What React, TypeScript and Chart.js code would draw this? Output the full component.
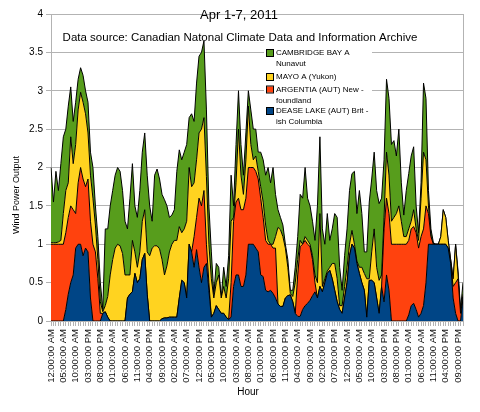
import React, { useEffect, useRef } from "react";
import { Chart, registerables } from "chart.js";

Chart.register(...registerables);

const TITLE = "Apr 1-7, 2011";
const SUBTITLE = "Data source: Canadian Natonal Climate Data and Information Archive";
const X_TITLE = "Hour";
const Y_TITLE = "Wind Power Output";

const hourNames = [
  "12:00:00 AM", "01:00:00 AM", "02:00:00 AM", "03:00:00 AM", "04:00:00 AM", "05:00:00 AM",
  "06:00:00 AM", "07:00:00 AM", "08:00:00 AM", "09:00:00 AM", "10:00:00 AM", "11:00:00 AM",
  "12:00:00 PM", "01:00:00 PM", "02:00:00 PM", "03:00:00 PM", "04:00:00 PM", "05:00:00 PM",
  "06:00:00 PM", "07:00:00 PM", "08:00:00 PM", "09:00:00 PM", "10:00:00 PM", "11:00:00 PM",
];
const days = [1, 2, 3, 4, 5, 6, 7];
const categories: string[] = days.flatMap(() => hourNames);

// DEASE LAKE (AUT) British Columbia
const dease = [
  0, 0, 0, 0, 0, 0, 0.15, 0.35, 0.5, 0.6,
  0.95, 1.0, 1.0, 0.85, 0.95, 0.9, 0.3, 0, 0, 0,
  0, 0.1, 0.12, 0.05, 0, 0, 0, 0, 0, 0,
  0, 0.3, 0.35, 0.38, 0.62, 0.5, 0.55, 0.8, 0.88, 0.35,
  0, 0, 0, 0, 0, 0.03, 0.04, 0.04, 0.05, 0.05,
  0.05, 0.05, 0.3, 0.53, 0.5, 0.3, 1.0, 0.9, 0.7, 0.93,
  0.7, 0.5, 0.7, 0.75, 0.4, 0.05, 0.1, 0.2, 0.15, 0.1,
  0.1, 0.05, 0.02, 0.05, 0.45, 0.6, 0.6, 0.45, 0.45, 0.6,
  1.0, 1.0, 1.0, 0.95, 0.9, 0.6, 0.58, 0.4, 0.38, 0.4,
  0.36, 0.3, 0.22, 0.19, 0.19, 0.3, 0.33, 0.34, 0.25, 0.1,
  0.06, 0.06, 0.15, 0.2, 0.23, 0.27, 0.33, 0.38, 0.3, 0.45,
  0.38, 0.5, 0.62, 0.66, 0.55, 0.4, 0.25, 0.15, 0.1, 0.3,
  0.5, 0.85, 1.0, 0.95, 0.75, 0.62, 0.5, 0.4, 0.05, 0.53,
  0.53, 0.5, 0.3, 0.1, 0.45, 0.25, 0.6, 0.4, 0, 0,
  0, 0, 0, 0, 0, 0.08, 0.2, 0.23, 0.15, 0.05,
  0.1, 0.2, 0.5, 1.0, 1.0, 1.0, 1.0, 1.0, 1.0, 1.0,
  1.0, 0.95, 0.75, 0.3, 0.1, 0, 0, 0.3,
];

// ARGENTIA (AUT) Newfoundland
const argentia = [
  1, 1, 1, 1, 1, 1, 1, 1, 1, 0.85,
  0.45, 0.8, 1.0, 1.0, 0.8, 0.95, 1.0, 1.0, 0.9, 0.55,
  0.1, 0, 0, 0, 0, 0, 0, 0, 0, 0,
  0, 0, 0, 0, 0, 0, 0, 0, 0, 0,
  0, 0, 0, 0, 0, 0, 0, 0, 0, 0,
  0, 0, 0, 0, 0, 0, 0, 0, 0.4, 0.42,
  0.9, 1.0, 1.0, 0.25, 0.1, 0, 0, 0, 0, 0,
  0, 0, 0, 0.45, 0.85, 0.95, 1.0, 1.0, 1.0, 1.0,
  1.0, 1.0, 1.0, 1.0, 0.95, 1.0, 0.77, 0.65, 0.62, 0.6,
  0.59, 0.65, 0, 0, 0, 0, 0, 0, 0, 0,
  0.54, 0.91, 0.85, 0.85, 0.77, 0.7, 0.47, 0.12, 0, 0,
  0, 0, 0, 0, 0, 0, 0, 0, 0, 0,
  0, 0, 0, 0, 0, 0, 0, 0, 0, 0,
  0, 0, 0, 0, 0, 0.95, 1.0, 1.0, 1.0, 1.0,
  1.0, 1.0, 1.0, 1.0, 1.0, 0.97, 1.0, 1.0, 1.0, 0.9,
  1.0, 1.0, 1.0, 0.4, 0.1, 0, 0, 0, 0, 0,
  0, 0, 0, 0.15, 0.4, 0.55, 0.1, 0,
];

// MAYO A (Yukon)
const mayo = [
  0.02, 0.02, 0.02, 0.03, 0.05, 0.4, 0.55, 0.45, 0.9, 0.6,
  0.9, 0.95, 0.98, 1.0, 0.95, 0.6, 0.6, 0.6, 0.35, 0.25,
  0.15, 0.02, 0.08, 0.27, 0.6, 0.8, 0.95, 1.0, 0.98, 0.88,
  0.6, 0.3, 0.25, 0.67, 0.28, 0.2, 0.35, 0.5, 0.57, 0.55,
  0.85, 0.95, 0.98, 0.98, 0.94, 0.77, 0.56, 0.68, 0.85, 0.95,
  1.0, 1.0, 0.93, 0.62, 0.7, 1.0, 1.0, 0.85, 0.7, 0.75,
  0.85, 1.0, 0.95, 0.88, 0.5, 0.5, 0.2, 0.3, 0.45, 0.2,
  0.35, 0.25, 0.53, 0.8, 0.05, 0.25, 0.9, 0.45, 0.2, 0.5,
  0.8, 0.3, 0.1, 0.2, 0.1, 0.15, 0.2, 0.2, 0.05, 0,
  0.05, 0.15, 1.0, 1.0, 0.91, 0.65, 0.37, 0.02, 0.07, 0.4,
  0.2, 0.08, 0, 0.05, 0.05, 0.03, 0.05, 0.1, 0.2, 0.95,
  0.07, 0.05, 0.03, 0.04, 0.2, 0.35, 0.3, 0.05, 0.1, 0.15,
  0.2, 0.15, 0.18, 0.05, 0.03, 0.08, 0.2, 0.22, 0.5, 0.02,
  0.37, 0.7, 0.4, 0.43, 0.15, 0.15, 0.6, 0.5, 0.3, 0.35,
  0.4, 0.5, 0.3, 0.1, 0.1, 0.15, 0.1, 0.22, 0.05, 0.1,
  0.5, 1.0, 0.6, 0.1, 0, 0, 0, 0, 0.1, 0.45,
  0.35, 0.1, 0.05, 0.1, 0.5, 0.05, 0.02, 0.05,
];

// CAMBRIDGE BAY A Nunavut
const cambridge = [
  0.98, 0.53, 0.93, 0.67, 1.0, 1.0, 0.8, 1.0, 0.65, 0.55,
  0.55, 0.4, 0.32, 0.35, 0.3, 0.4, 0.3, 0.4, 0.25, 0.3,
  0.25, 0.03, 1.0, 0.88, 0.9, 0.9, 0.95, 1.0, 0.97, 0.82,
  0.7, 0.6, 1.0, 1.0, 0.6, 0.65, 0.8, 0.9, 1.0, 1.0,
  0.65, 0.35, 0.92, 1.0, 0.91, 0.85, 0.98, 0.78, 0.45, 0.38,
  0.4, 0.9, 1.0, 0.95, 1.0, 1.0, 0.65, 0.95, 0.8, 1.0,
  1.0, 1.0, 1.0, 0.87, 0.5, 0.35, 0.05, 0.25, 0.1, 0,
  0.25, 0.15, 0.3, 0.6, 0.15, 0.5, 0.5, 0.4, 0.25, 0.35,
  0.2, 0.45, 0.4, 0.35, 0.25, 0.45, 0.55, 0.65, 0.95, 0.8,
  1.0, 0.55, 0.23, 0.16, 0.15, 0.05, 0.1, 0.04, 0.08, 0.2,
  0.3, 0.6, 0.6, 0.9, 0.55, 0.5, 0.45, 0.45, 1.0, 1.0,
  0.75, 0.45, 0.75, 0.35, 0.45, 0.65, 0.8, 0.5, 0.2, 0.4,
  0.5, 0.7, 0.74, 0.95, 0.62, 1.0, 0.7, 0.28, 0.35, 1.0,
  0.95, 1.0, 1.0, 1.0, 1.0, 0.75, 0.95, 1.0, 1.0, 1.0,
  0.75, 1.0, 0.5, 0.28, 0.6, 0.72, 0.85, 0.82, 0.3, 0.1,
  0.2, 0.9, 0.8, 0.2, 0.1, 0.02, 0, 0, 0, 0,
  0, 0, 0, 0, 0, 0.05, 0.03, 0.15,
];

const seriesNames = [
  "DEASE LAKE (AUT) British Columbia",
  "ARGENTIA (AUT) Newfoundland",
  "MAYO A (Yukon)",
  "CAMBRIDGE BAY A Nunavut",
];
const seriesColors = ["#004586", "#ff420e", "#ffd320", "#579d1c"];

// legend rows, top to bottom (as wrapped in the original)
const legendTexts = [
  ["CAMBRIDGE BAY A", "Nunavut"],
  ["MAYO A (Yukon)"],
  ["ARGENTIA (AUT) New -", "foundland"],
  ["DEASE LAKE (AUT) Brit -", "ish Columbia"],
];
const legendColors = ["#579d1c", "#ffd320", "#ff420e", "#004586"];

const FONT = '"Liberation Sans", Arial, sans-serif';
const GRID = "#b3b3b3";

const overlayPlugin = {
  id: "overlay",
  afterDraw(chart: any) {
    const { ctx, chartArea } = chart;
    ctx.save();
    // right frame border
    ctx.strokeStyle = GRID;
    ctx.lineWidth = 1;
    ctx.beginPath();
    ctx.moveTo(Math.round(chartArea.right) + 0.5, chartArea.top);
    ctx.lineTo(Math.round(chartArea.right) + 0.5, chartArea.bottom);
    ctx.stroke();

    ctx.fillStyle = "#000";
    ctx.textAlign = "center";
    ctx.textBaseline = "middle";
    ctx.font = `13px ${FONT}`;
    ctx.fillText(TITLE, 239, 15);
    ctx.font = `11.5px ${FONT}`;
    ctx.fillText(SUBTITLE, 240, 38);

    // legend
    ctx.fillStyle = "#fff";
    ctx.fillRect(264, 47, 108, 81);
    const rowY = [53, 77, 89.5, 111];
    ctx.font = `8px ${FONT}`;
    ctx.textAlign = "left";
    legendTexts.forEach((lines, i) => {
      const y = rowY[i];
      ctx.fillStyle = legendColors[i];
      ctx.fillRect(267, y - 3, 6, 6);
      ctx.strokeStyle = "#000";
      ctx.lineWidth = 1;
      ctx.strokeRect(266.5, y - 3.5, 7, 7);
      ctx.fillStyle = "#000";
      lines.forEach((t, j) => ctx.fillText(t, 276, y + j * 11));
    });

    // axis titles
    ctx.textAlign = "center";
    ctx.font = `10px ${FONT}`;
    ctx.fillText(X_TITLE, 248, 392);
    ctx.translate(17, 195);
    ctx.rotate(-Math.PI / 2);
    ctx.font = `9px ${FONT}`;
    ctx.fillText(Y_TITLE, 0, 0);
    ctx.restore();
  },
};

export default function App() {
  const ref = useRef<HTMLCanvasElement | null>(null);

  useEffect(() => {
    document.body.style.margin = "0";
    const canvas = ref.current;
    if (!canvas) return;
    const data = [dease, argentia, mayo, cambridge];
    const chart = new Chart(canvas, {
      type: "line",
      data: {
        labels: categories,
        datasets: data.map((values, i) => ({
          label: seriesNames[i],
          data: values,
          backgroundColor: seriesColors[i],
          borderColor: "#000",
          borderWidth: 1,
          fill: i === 0 ? "origin" : "-1",
          pointRadius: 0,
          tension: 0,
        })),
      },
      options: {
        animation: false,
        responsive: false,
        devicePixelRatio: 1,
        layout: { padding: { left: 0, right: 17, top: 14, bottom: 0 } },
        plugins: {
          legend: { display: false },
          title: { display: false },
          tooltip: { enabled: false },
        },
        scales: {
          x: {
            type: "category",
            offset: false,
            afterFit: (scale: any) => {
              scale.height = 91;
            },
            grid: {
              display: true,
              drawOnChartArea: false,
              drawTicks: true,
              tickLength: 5,
              color: GRID,
            },
            border: { display: true, color: GRID },
            ticks: {
              autoSkip: false,
              maxRotation: 90,
              minRotation: 90,
              padding: 3,
              color: "#111",
              font: { family: FONT, size: 9.5 },
              callback: (_v: any, index: number) => (index % 5 === 0 ? categories[index] : ""),
            },
          },
          y: {
            stacked: true,
            min: 0,
            max: 4,
            afterFit: (scale: any) => {
              scale.width = 51;
            },
            grid: { color: GRID, tickLength: 5, drawTicks: true },
            border: { display: true, color: GRID },
            ticks: {
              stepSize: 0.5,
              padding: 3,
              color: "#000",
              font: { family: FONT, size: 10 },
              callback: (v: any) => String(Number(v)),
            },
          },
        },
      },
      plugins: [overlayPlugin],
    });
    return () => chart.destroy();
  }, []);

  return (
    <div style={{ position: "fixed", left: 0, top: 0, width: 480, height: 412, background: "#fff" }}>
      <canvas ref={ref} width={480} height={412} style={{ width: 480, height: 412 }} />
    </div>
  );
}
